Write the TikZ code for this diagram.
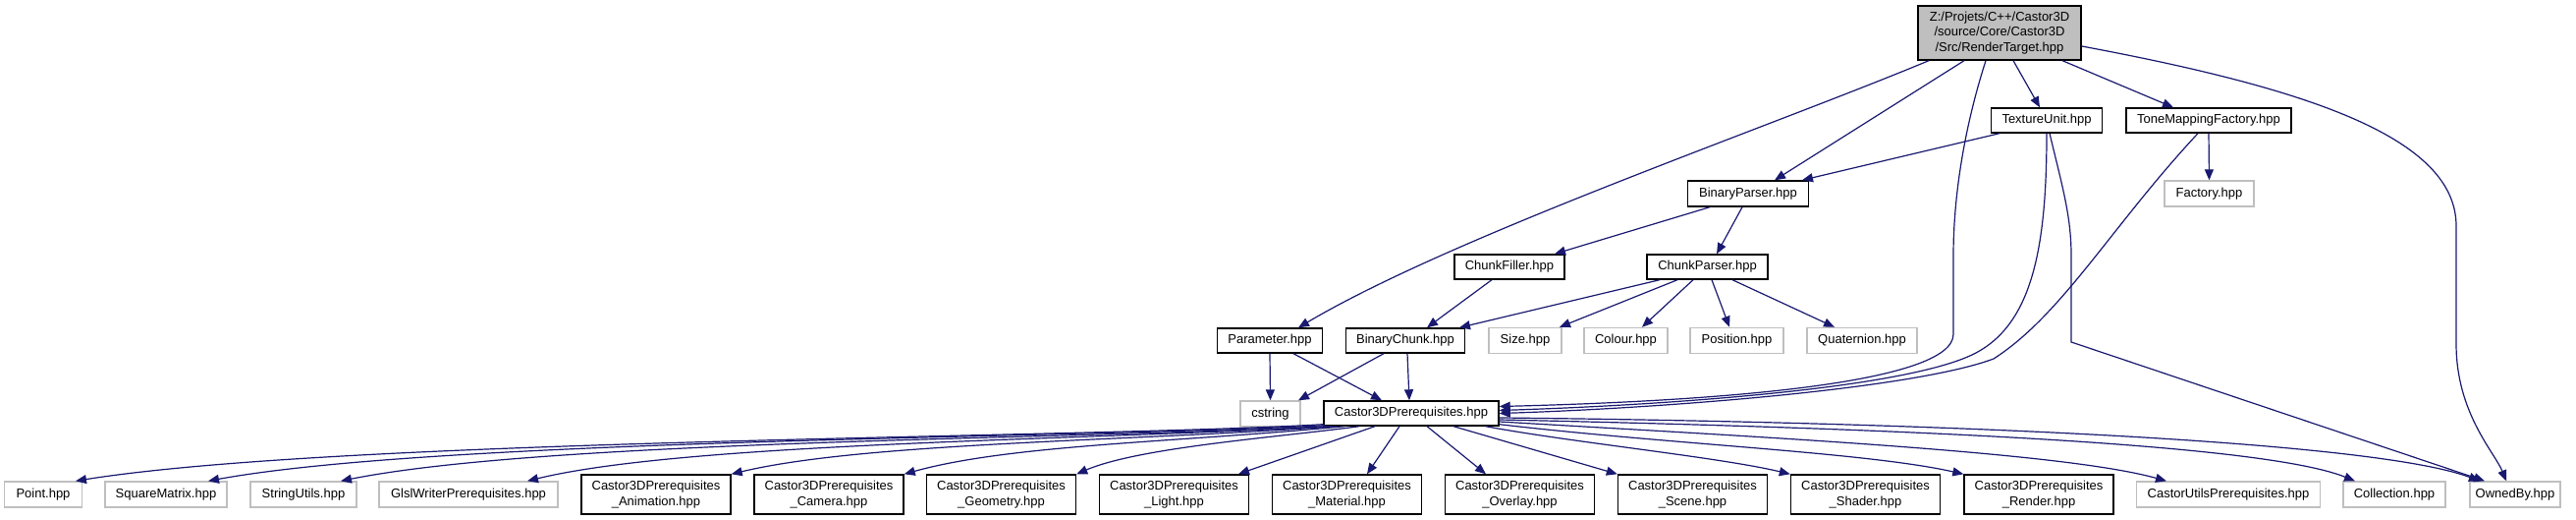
\documentclass[tikz,border=0pt]{standalone}
\usepackage{fontspec}
\setmainfont{Liberation Sans}
\usetikzlibrary{arrows.meta,calc}
\definecolor{edgec}{HTML}{191970}
\definecolor{grayb}{HTML}{BFBFBF}
\begin{document}
\begin{tikzpicture}[x=0.5pt,y=-0.5pt,
  every node/.style={font=\fontsize{6.5}{7.7}\selectfont, align=center, inner sep=0pt, anchor=center},
  doc/.style={draw=black, line width=0.7pt, fill=white, minimum height=12.5pt},
  ext/.style={draw=grayb, line width=0.7pt, fill=white, minimum height=13pt},
  two/.style={doc, minimum width=76pt, minimum height=20pt},
  dep/.style={draw=edgec, line width=0.6pt, -{Triangle[length=5.5pt,width=4.5pt]}}]
\fill[white] (0,0) rectangle (2623,529);
\path[use as bounding box] (0,0) rectangle (2623,529);

% nodes
\node[doc, fill=grayb, minimum width=83pt, minimum height=27.5pt] (root) at (2036,33.5) {Z:/Projets/C++/Castor3D\\/source/Core/Castor3D\\/Src/RenderTarget.hpp};
\node[doc, minimum width=56.5pt] (tu) at (2084,122.5) {TextureUnit.hpp};
\node[doc, minimum width=84pt] (tmf) at (2249,122.5) {ToneMappingFactory.hpp};
\node[ext, minimum width=45.5pt] (fac) at (2249.5,197) {Factory.hpp};
\node[doc, minimum width=61.5pt, minimum height=13pt] (bp) at (1780,197) {BinaryParser.hpp};
\node[doc, minimum width=56pt] (cf) at (1537,271.5) {ChunkFiller.hpp};
\node[doc, minimum width=61.5pt] (cp) at (1738.5,271.5) {ChunkParser.hpp};
\node[doc, minimum width=53.5pt] (param) at (1293,346.5) {Parameter.hpp};
\node[doc, minimum width=60.5pt] (bc) at (1431,346.5) {BinaryChunk.hpp};
\node[ext, minimum width=37pt] (size) at (1553,346.5) {Size.hpp};
\node[ext, minimum width=42.5pt] (colour) at (1655.5,346.5) {Colour.hpp};
\node[ext, minimum width=47.5pt] (position) at (1768.5,346.5) {Position.hpp};
\node[ext, minimum width=56pt] (quat) at (1896,346.5) {Quaternion.hpp};
\node[ext, minimum width=30.5pt] (cstring) at (1293.5,421) {cstring};
\node[doc, minimum width=89pt] (c3dp) at (1437,420.5) {Castor3DPrerequisites.hpp};

\node[ext, minimum width=39.5pt] (pnt) at (44,503) {Point.hpp};
\node[ext, minimum width=62pt] (sqm) at (169,503) {SquareMatrix.hpp};
\node[ext, minimum width=54pt] (strutils) at (309,503) {StringUtils.hpp};
\node[ext, minimum width=91pt] (glsl) at (477,503) {GlslWriterPrerequisites.hpp};
\node[two] (anim) at (668,503) {Castor3DPrerequisites\\\_Animation.hpp};
\node[two] (cam) at (844,503) {Castor3DPrerequisites\\\_Camera.hpp};
\node[two] (geom) at (1019.5,503) {Castor3DPrerequisites\\\_Geometry.hpp};
\node[two] (light) at (1195.5,503) {Castor3DPrerequisites\\\_Light.hpp};
\node[two] (mat) at (1371.5,503) {Castor3DPrerequisites\\\_Material.hpp};
\node[two] (overlay) at (1547.5,503) {Castor3DPrerequisites\\\_Overlay.hpp};
\node[two] (scene) at (1723.5,503) {Castor3DPrerequisites\\\_Scene.hpp};
\node[two] (shader) at (1899.5,503) {Castor3DPrerequisites\\\_Shader.hpp};
\node[two] (render) at (2076,503) {Castor3DPrerequisites\\\_Render.hpp};
\node[ext, minimum width=93.5pt] (cutils) at (2269,503) {CastorUtilsPrerequisites.hpp};
\node[ext, minimum width=52pt] (coll) at (2438,503) {Collection.hpp};
\node[ext, minimum width=46pt] (owned) at (2561,503) {OwnedBy.hpp};

% edges from root
\draw[dep] ($(root.south)+(14,0)$) -- ($(tu.north)+(-7,0)$);
\draw[dep] ($(root.south)+(64,0)$) -- ($(tmf.north)+(-36,0)$);
\draw[dep] ($(root.south)+(-36,0)$) -- ($(bp.north)+(27,0)$);
\draw[dep] ($(root.south)+(-72,0)$) .. controls (1800,130) and (1480,240) .. ($(param.north)+(29,0)$);
\draw[dep] ($(root.south)+(-14,0)$) .. controls (2000,130) and (1989,200) .. (1989,260) -- (1989,340) .. controls (1989,390) and (1750,408) .. ($(c3dp.east)+(0,-7)$);
\draw[dep] ($(root.east)+(0,13.5)$) .. controls (2350,90) and (2501,140) .. (2501,230) -- (2501,350) .. controls (2501,420) and (2540,460) .. ($(owned.north)+(-9,0)$);

% TextureUnit / ToneMappingFactory
\draw[dep] ($(tu.south)+(-48,0)$) -- ($(bp.north)+(55,0)$);
\draw[dep] (tu.south) .. controls (2084,250) and (2070,330) .. (2010,360) .. controls (1940,395) and (1700,412) .. ($(c3dp.east)+(0,-3)$);
\draw[dep] ($(tu.south)+(3,0)$) .. controls (2100,190) and (2109,220) .. (2109,260) -- (2109,348) -- ($(owned.north)+(-31,0)$);
\draw[dep] ($(tmf.south)+(-11,0)$) .. controls (2150,230) and (2100,320) .. (2030,365) .. controls (1950,395) and (1700,415) .. (c3dp.east);
\draw[dep] (tmf.south) -- (fac.north);

% parsers
\draw[dep] ($(bp.south)+(-39,0)$) -- ($(cf.north)+(46,0)$);
\draw[dep] ($(bp.south)+(-6,0)$) -- ($(cp.north)+(9.5,0)$);
\draw[dep] ($(cf.south)+(-18,0)$) -- ($(bc.north)+(22,0)$);
\draw[dep] ($(cp.south)+(-48.5,0)$) -- ($(bc.north)+(55,0)$);
\draw[dep] ($(cp.south)+(-30.5,0)$) -- ($(size.north)+(35,0)$);
\draw[dep] ($(cp.south)+(-14.5,0)$) -- ($(colour.north)+(16.5,0)$);
\draw[dep] ($(cp.south)+(4.5,0)$) -- ($(position.north)+(-7.5,0)$);
\draw[dep] ($(cp.south)+(25.5,0)$) -- ($(quat.north)+(-28,0)$);
\draw[dep] (param.south) -- (cstring.north);
\draw[dep] ($(param.south)+(24,0)$) -- ($(c3dp.north)+(-30,0)$);
\draw[dep] ($(bc.south)+(-22,0)$) -- ($(cstring.north)+(28.5,0)$);
\draw[dep] ($(bc.south)+(2,0)$) -- ($(c3dp.north)+(-2,0)$);

% Castor3DPrerequisites outgoing
\draw[dep] ($(c3dp.south west)+(0,-2)$) .. controls (1100,446) and (350,446) .. ($(pnt.north)+(33,0)$);
\draw[dep] ($(c3dp.south west)+(2,-1)$) .. controls (1100,446) and (450,446) .. ($(sqm.north)+(43,0)$);
\draw[dep] ($(c3dp.south west)+(4,0)$) .. controls (1100,447) and (560,447) .. ($(strutils.north)+(38,0)$);
\draw[dep] ($(c3dp.south west)+(8,0)$) .. controls (1100,448) and (700,450) .. ($(glsl.north)+(60,0)$);
\draw[dep] ($(c3dp.south west)+(14,0)$) .. controls (1150,449) and (880,450) .. (anim.north east);
\draw[dep] ($(c3dp.south west)+(22,0)$) .. controls (1200,450) and (1030,452) .. (cam.north east);
\draw[dep] ($(c3dp.south west)+(37,0)$) .. controls (1300,445) and (1160,455) .. (geom.north east);
\draw[dep] ($(c3dp.south)+(-37,0)$) -- ($(light.north)+(65.5,0)$);
\draw[dep] ($(c3dp.south)+(-12,0)$) -- ($(mat.north)+(20.5,0)$);
\draw[dep] ($(c3dp.south)+(16,0)$) -- ($(overlay.north)+(-34.5,0)$);
\draw[dep] ($(c3dp.south)+(43,0)$) -- (scene.north west);
\draw[dep] ($(c3dp.south east)+(-14,0)$) .. controls (1600,450) and (1750,465) .. (shader.north west);
\draw[dep] ($(c3dp.south east)+(0,-2)$) .. controls (1700,452) and (1900,460) .. (render.north west);
\draw[dep] ($(c3dp.east)+(0,8.5)$) .. controls (1800,445) and (2100,460) .. ($(cutils.north)+(-63,0)$);
\draw[dep] ($(c3dp.east)+(0,6.5)$) .. controls (1900,435) and (2300,450) .. ($(coll.north)+(-40,0)$);
\draw[dep] ($(c3dp.east)+(0,4.5)$) .. controls (2000,430) and (2420,450) .. ($(owned.north)+(-36,0)$);
\end{tikzpicture}
\end{document}
